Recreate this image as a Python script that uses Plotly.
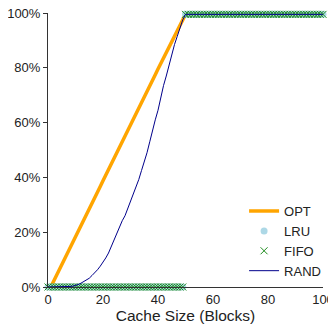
import plotly.graph_objects as go

cache_size = list(range(0, 101))

opt = [0, 0, 2, 4, 6, 8.2, 10.2, 12.2, 14.3, 16.3, 18.4, 20.4, 22.4, 24.5, 26.5, 28.6,
       30.6, 32.6, 34.7, 36.7, 38.8, 40.8, 42.8, 44.9, 46.9, 49.0, 51.0, 53.0, 55.1,
       57.1, 59.2, 61.2, 63.2, 65.3, 67.3, 69.4, 71.4, 73.4, 75.5, 77.5, 79.6, 81.6,
       83.6, 85.7, 87.7, 89.8, 91.8, 93.8, 95.9, 97.9, 99.5] + [99.5] * 50

lru = [0] * 50 + [99.5] * 51
fifo = [0] * 50 + [99.5] * 51

rand = [0, 0, 0, 0, 0, 0, 0, 0.1, 0.2, 0.3, 0.5, 0.9, 1.4, 2.0, 2.6, 3.2, 4.2, 5.2, 6.3,
        7.6, 9.0, 10.6, 12.4, 14.8, 17.0, 19.4, 21.8, 24.2, 26.0, 28.5, 31.0, 33.5, 36.5,
        39.2, 42.5, 45.5, 49.0, 53.0, 57.5, 61.0, 64.5, 69.5, 73.5, 77.0, 81.0, 85.0,
        88.5, 91.5, 94.5, 97.5, 99.5] + [99.5] * 50

y_ticks = [0, 20, 40, 60, 80, 100]
y_labels = ["0%", "20%", "40%", "60%", "80%", "100%"]
x_ticks = [0, 20, 40, 60, 80, 100]

fig = go.Figure()
fig.add_trace(go.Scatter(x=cache_size, y=opt, mode="lines", name="OPT",
                         line=dict(color="#FFA500", width=3.5), cliponaxis=False))
fig.add_trace(go.Scatter(x=cache_size, y=lru, mode="markers", name="LRU",
                         marker=dict(symbol="circle", size=7, color="#ADD8E6"),
                         cliponaxis=False))
fig.add_trace(go.Scatter(x=cache_size, y=fifo, mode="markers", name="FIFO",
                         marker=dict(symbol="x-thin", size=7, color="green",
                                     line=dict(color="#1E8C1E", width=1)),
                         cliponaxis=False))
fig.add_trace(go.Scatter(x=cache_size, y=rand, mode="lines", name="RAND",
                         line=dict(color="#00008B", width=1), cliponaxis=False))

fig.update_layout(
    width=328, height=316,
    margin=dict(l=40, r=13, t=5, b=37),
    paper_bgcolor="white", plot_bgcolor="white",
    font=dict(family="Liberation Sans, Arial, sans-serif", size=13, color="#222"),
    legend=dict(x=0.713, y=0.332, xanchor="left", yanchor="top",
                bgcolor="rgba(0,0,0,0)", font=dict(size=13),
                itemwidth=30, tracegroupgap=0),
    showlegend=True,
)
fig.update_xaxes(range=[0, 100], tickvals=x_ticks, showgrid=False, zeroline=False,
                 showline=True, linecolor="#333", linewidth=1, automargin=False,
                 ticks="", ticklabeloverflow="allow",
                 title=dict(text="Cache Size (Blocks)", font=dict(size=15.5), standoff=6))
fig.update_yaxes(range=[0, 100], tickvals=y_ticks, ticktext=y_labels, showgrid=False,
                 zeroline=False, showline=True, linecolor="#333", linewidth=1,
                 automargin=False, ticks="outside", ticklen=4, tickcolor="#333",
                 ticklabeloverflow="allow")

fig.write_html("out.html")
